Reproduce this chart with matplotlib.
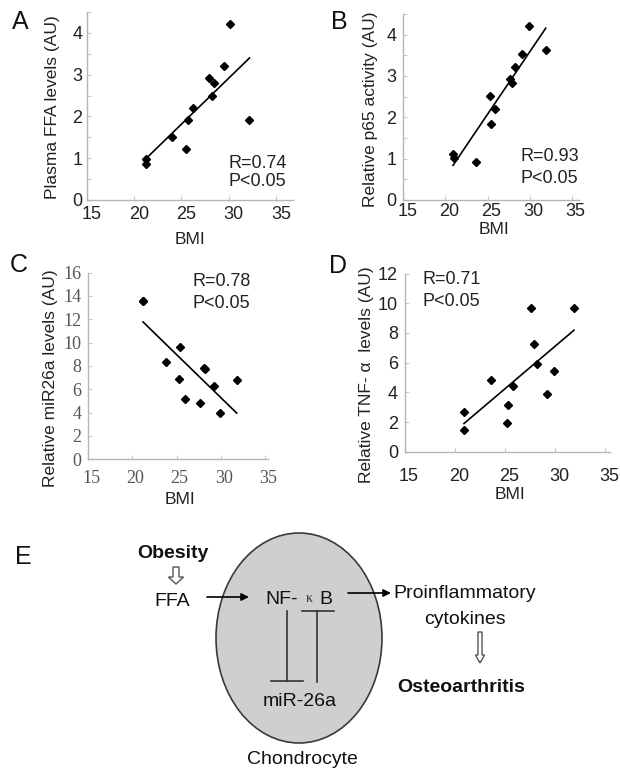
import numpy as np
import matplotlib
matplotlib.use('Agg')
import matplotlib.pyplot as plt
from matplotlib.patches import Ellipse, FancyArrow
from matplotlib.transforms import ScaledTranslation

W, H = 620, 772
plt.rcParams['font.family'] = ['Liberation Sans', 'DejaVu Sans']

# ---- data ----
bmi_a = [21.3, 21.3, 24.0, 25.5, 25.7, 26.2, 27.9, 28.2, 28.5, 29.5, 30.1, 32.2]
ffa = [0.99, 0.87, 1.51, 1.21, 1.91, 2.21, 2.92, 2.50, 2.81, 3.20, 4.21, 1.91]
bmi_b = [20.9, 21.0, 23.6, 25.3, 25.4, 25.9, 27.7, 27.9, 28.2, 29.1, 29.9, 31.9]
p65 = [1.12, 1.01, 0.92, 2.52, 1.83, 2.21, 2.92, 2.84, 3.22, 3.53, 4.22, 3.63]
bmi_c = [21.2, 21.2, 23.8, 25.3, 25.4, 26.0, 27.7, 28.1, 28.2, 29.2, 29.9, 31.8]
mir26a = [13.6, 13.6, 8.3, 6.85, 9.6, 5.2, 4.85, 7.8, 7.7, 6.3, 3.95, 6.8]
bmi_d = [20.9, 20.9, 23.6, 25.2, 25.3, 25.8, 27.6, 27.9, 28.2, 29.2, 29.9, 31.9]
tnf = [2.7, 1.45, 4.8, 1.9, 3.15, 4.45, 9.65, 7.25, 5.9, 3.9, 5.45, 9.65]

xticks = [15, 20, 25, 30, 35]
yticks_ab = [0, 0.5, 1, 1.5, 2, 2.5, 3, 3.5, 4, 4.5]
ylabels_ab = ['0', '', '1', '', '2', '', '3', '', '4', '']
yticks_c = [0, 2, 4, 6, 8, 10, 12, 14, 16]
yticks_d = [0, 2, 4, 6, 8, 10, 12]

ylab = ['Plasma FFA levels (AU)', 'Relative p65 activity (AU)',
        'Relative miR26a levels (AU)', 'Relative TNF- \u03b1  levels (AU)']
r_text = ['R=0.74', 'R=0.93', 'R=0.78', 'R=0.71']
p_text = ['P<0.05', 'P<0.05', 'P<0.05', 'P<0.05']
letters = ['A', 'B', 'C', 'D', 'E']

diagram_text = ['Obesity', 'FFA', 'NF-', '\u03ba', 'B', 'Proinflammatory',
                'cytokines', 'Osteoarthritis', 'miR-26a', 'Chondrocyte']

fig = plt.figure(figsize=(W / 100, H / 100), dpi=100)


def fx(x):
    return x / W


def fy(y):
    return 1 - y / H


def add_ax(x0, y0, x1, y1):
    return fig.add_axes([fx(x0), fy(y1), (x1 - x0) / W, (y1 - y0) / H])


SPINE = '#b5b5b5'


def style(ax, xlim, ylim, yt, ytl, serif=False, xpad=4, ypad=2, xshift=4):
    ax.set_xlim(*xlim)
    ax.set_ylim(*ylim)
    for s in ['top', 'right']:
        ax.spines[s].set_visible(False)
    for s in ['left', 'bottom']:
        ax.spines[s].set_color(SPINE)
        ax.spines[s].set_linewidth(1.0)
    ax.set_xticks(xticks)
    ax.set_yticks(yt)
    ax.set_yticklabels(ytl)
    ax.tick_params(axis='both', direction='in', length=3, width=0.8,
                   color='#c8c8c8', labelsize=13, labelcolor='#222222')
    ax.tick_params(axis='x', pad=xpad)
    ax.tick_params(axis='y', pad=ypad)
    off = ScaledTranslation(xshift / 100, 0, fig.dpi_scale_trans)
    for lab in ax.get_xticklabels():
        lab.set_transform(lab.get_transform() + off)
    if serif:
        for lab in ax.get_xticklabels() + ax.get_yticklabels():
            lab.set_fontfamily(['Liberation Serif', 'DejaVu Serif'])
            lab.set_color('#555555')
    ax.patch.set_alpha(0)


def scatter_fit(ax, x, y):
    x = np.asarray(x, float)
    y = np.asarray(y, float)
    ax.plot(x, y, linestyle='none', marker='D', markersize=3.9,
            color='black', zorder=3)
    m, b = np.polyfit(x, y, 1)
    xs = np.array([x.min(), x.max()])
    ax.plot(xs, m * xs + b, color='black', lw=1.2, zorder=2)


# Panel A
axA = add_ax(86.7, 12, 293, 200)
style(axA, (15, 36.8), (0, 4.5), yticks_ab, ylabels_ab, ypad=3, xshift=5)
scatter_fit(axA, bmi_a, ffa)

# Panel B
axB = add_ax(403.3, 14, 579, 200)
style(axB, (15, 35.85), (0, 4.5), yticks_ab, ylabels_ab, ypad=5, xpad=2,
      xshift=4)
scatter_fit(axB, bmi_b, p65)

# Panel C
axC = add_ax(88.3, 272.6, 268, 459.3)
style(axC, (15, 35.35), (0, 16), yticks_c, [str(v) for v in yticks_c],
      serif=True, xpad=8, ypad=5, xshift=3)
scatter_fit(axC, bmi_c, mir26a)

# Panel D
axD = add_ax(405, 273.5, 610, 451.7)
style(axD, (15, 35.5), (0, 12), yticks_d, [str(v) for v in yticks_d],
      xpad=12, ypad=5, xshift=4)
scatter_fit(axD, bmi_d, tnf)

# y labels
ylab_pos = [(52, 107), (370, 109), (51, 378), (366, 375)]
for (x, y), t in zip(ylab_pos, ylab):
    fig.text(fx(x), fy(y), t, rotation=90, ha='center', va='center',
             fontsize=12.5, color='#222222')

# x labels
bmi_pos = [(190, 240), (494, 230), (180, 500), (510, 495)]
for x, y in bmi_pos:
    fig.text(fx(x), fy(y), 'BMI', ha='center', va='center', fontsize=12.5,
             color='#222222')

# stats text
stat_pos = [(228, 163.5, 181.5), (521, 156.5, 178.5), (192, 281.5, 303.5),
            (423, 280, 301)]
for (x, yr, yp), r, p in zip(stat_pos, r_text, p_text):
    fig.text(fx(x), fy(yr), r, ha='left', va='center', fontsize=13,
             color='#222222')
    fig.text(fx(x), fy(yp), p, ha='left', va='center', fontsize=13,
             color='#222222')

# panel letters
letter_pos = [(12, 22), (331, 22), (10, 265), (329, 266), (15, 557)]
for (x, y), t in zip(letter_pos, letters):
    fig.text(fx(x), fy(y), t, ha='left', va='center', fontsize=18,
             color='#111111')

# ---- Panel E diagram ----
axE = fig.add_axes([0, 0, 1, 1])
axE.set_xlim(0, W)
axE.set_ylim(H, 0)
axE.axis('off')
axE.patch.set_alpha(0)

axE.add_patch(Ellipse((299, 638), 166, 210, facecolor='#cfcfcf',
                      edgecolor='#3a3a3a', lw=1.2, zorder=1))

fs = 14
axE.text(137, 554, diagram_text[0], ha='left', va='center', fontsize=fs,
         fontweight='bold', color='#111111')
axE.text(154, 601, diagram_text[1], ha='left', va='center', fontsize=fs,
         color='#111111')
axE.text(265, 600, diagram_text[2], ha='left', va='center', fontsize=fs,
         color='#111111', zorder=3)
axE.text(309, 599, diagram_text[3], ha='center', va='center', fontsize=10,
         color='#333333', family=['Liberation Serif', 'DejaVu Serif'],
         zorder=3)
axE.text(319, 600, diagram_text[4], ha='left', va='center', fontsize=fs,
         color='#111111', zorder=3)
axE.text(393, 594, diagram_text[5], ha='left', va='center', fontsize=fs,
         color='#111111')
axE.text(465, 619, diagram_text[6], ha='center', va='center', fontsize=fs,
         color='#111111')
axE.text(397, 687, diagram_text[7], ha='left', va='center', fontsize=fs,
         fontweight='bold', color='#111111')
axE.text(263, 702, diagram_text[8], ha='left', va='center', fontsize=fs,
         color='#111111', zorder=3)
axE.text(247, 760, diagram_text[9], ha='left', va='center', fontsize=fs,
         color='#111111')

# black arrows
axE.annotate('', xy=(249, 597), xytext=(207, 597),
             arrowprops=dict(arrowstyle='-|>', color='black', lw=1.2,
                             mutation_scale=11, shrinkA=0, shrinkB=0),
             zorder=3)
axE.annotate('', xy=(391, 593), xytext=(348, 593),
             arrowprops=dict(arrowstyle='-|>', color='black', lw=1.2,
                             mutation_scale=11, shrinkA=0, shrinkB=0),
             zorder=3)

# inhibition lines
lc = '#333333'
axE.plot([287, 287], [611, 681], color=lc, lw=1.2, zorder=3)
axE.plot([271, 303], [681, 681], color=lc, lw=1.2, zorder=3)
axE.plot([302, 334], [611, 611], color=lc, lw=1.2, zorder=3)
axE.plot([317, 317], [611, 682], color=lc, lw=1.2, zorder=3)

# hollow arrows
axE.add_patch(FancyArrow(176, 567, 0, 17, width=6, head_width=15,
                         head_length=7, length_includes_head=True,
                         facecolor='white', edgecolor='#555555', lw=1.0,
                         zorder=3))
axE.add_patch(FancyArrow(480, 632, 0, 31, width=4, head_width=9,
                         head_length=8, length_includes_head=True,
                         facecolor='white', edgecolor='#555555', lw=1.0,
                         zorder=3))

fig.savefig('out.png', dpi=100)
